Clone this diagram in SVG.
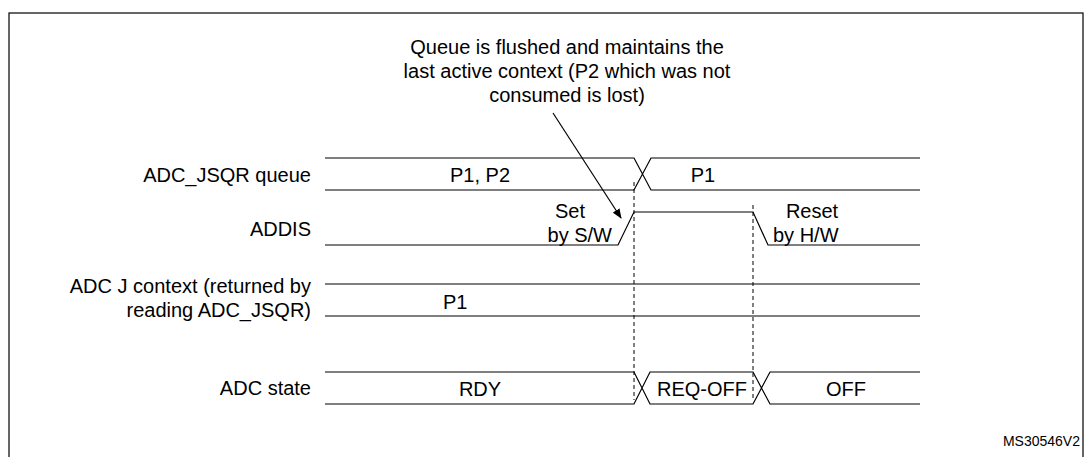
<svg xmlns="http://www.w3.org/2000/svg" width="1088" height="457" viewBox="0 0 1088 457">
<defs><marker id="ah" markerWidth="10" markerHeight="8" refX="9" refY="4" orient="auto" markerUnits="userSpaceOnUse"><path d="M0,0 L10,4 L0,8 z" fill="#000"/></marker></defs>
<style>
text{font-family:"Liberation Sans",Arial,sans-serif;font-size:20px;fill:#000}
.w{fill:none;stroke:#000;stroke-width:1.2}
.d{fill:none;stroke:#000;stroke-width:1;stroke-dasharray:4,3}
.r{text-anchor:end}.m{text-anchor:middle}
</style>
<rect x="9" y="13" width="1074" height="450" fill="#fff" stroke="#000" stroke-width="1.2"/>
<g id="labels">
<text class="r" x="311" y="182">ADC_JSQR queue</text>
<text class="r" x="311" y="236">ADDIS</text>
<text class="r" x="311" y="293">ADC J context (returned by</text>
<text class="r" x="311" y="317">reading ADC_JSQR)</text>
<text class="r" x="311" y="395">ADC state</text>
<text x="1080" y="446" class="r" style="font-size:14px">MS30546V2</text>
</g>
<g id="queue">
<path class="w" d="M325,158 H634 L651,190 H920 M325,190 H634 L651,158 H920"/>
<text class="m" x="480" y="182">P1, P2</text>
<text class="m" x="703" y="182">P1</text>
</g>
<g id="addis">
<path class="w" d="M325,245 H618 L634,212 H753 L768,245 H920"/>
<text class="m" x="570" y="218">Set</text>
<text class="r" x="612" y="242">by S/W</text>
<text class="m" x="812" y="218">Reset</text>
<text x="773" y="242">by H/W</text>
</g>
<g id="context">
<path class="w" d="M325,284 H920 M325,316 H920"/>
<text x="443" y="309">P1</text>
</g>
<g id="state">
<path class="w" d="M325,372 H634 L650,404 H753 L770,372 H920 M325,404 H634 L650,372 H753 L770,404 H920"/>
<text class="m" x="480" y="396">RDY</text>
<text class="m" x="702" y="396">REQ-OFF</text>
<text class="m" x="846" y="396">OFF</text>
</g>
<g id="note">
<text class="m" x="567" y="54">Queue is flushed and maintains the</text>
<text class="m" x="567" y="78">last active context (P2 which was not</text>
<text class="m" x="567" y="102">consumed is lost)</text>
</g>
<g id="connectors">
<path class="d" d="M634,182 V400 M753,205 V400"/>
<path class="w" d="M553,113 L621,218" marker-end="url(#ah)"/>
</g>
</svg>
